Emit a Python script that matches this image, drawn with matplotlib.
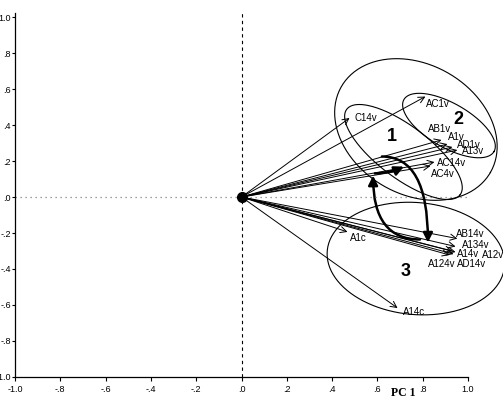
import matplotlib
matplotlib.use("Agg")
import matplotlib.pyplot as plt
from matplotlib.patches import FancyArrowPatch
import numpy as np

plt.rcParams['font.family'] = ['Liberation Sans', 'DejaVu Sans']

# loadings (PC1, PC2) of each variable
noms = ["C14v", "AC1v", "AB1v", "A1v", "AD1v", "A13v", "AC14v", "AC4v",
        "AB14v", "A134v", "A14v", "A12v", "A124v", "AD14v", "A1c", "A14c"]
pc1 = [0.477, 0.812, 0.883, 0.909, 0.931, 0.953, 0.852, 0.834,
       0.953, 0.945, 0.931, 0.945, 0.918, 0.936, 0.468, 0.689]
pc2 = [0.439, 0.558, 0.317, 0.294, 0.278, 0.261, 0.194, 0.172,
       -0.231, -0.275, -0.300, -0.306, -0.322, -0.317, -0.194, -0.617]

# decalage des etiquettes (pixels)
decal = [(5, 0), (1, -7), (-14, 11), (1, 7), (5, 2), (5, -1), (3, -1), (1, -8),
         (-1, 5), (6, 2), (5, -3), (26, -3), (-21, -9), (3, -10), (2, -6), (5, -4)]

ticks = [-1.0, -0.8, -0.6, -0.4, -0.2, 0.0, 0.2, 0.4, 0.6, 0.8, 1.0]
xlabels = ["-1.0", "-.8", "-.6", "-.4", "-.2", ".0", ".2", ".4", ".6", ".8", "1.0"]
ylabels = ["-1.0", "-.8", "-.6", "-.4", "-.2", ".0", ".2", ".4", ".6", ".8", "1.0"]

fig = plt.figure(figsize=(5.03, 4.04), dpi=100)
ax = fig.add_axes([15 / 503, 27 / 404, 453 / 503, 363.6 / 404])
ax.set_xlim(-1, 1)
ax.set_ylim(-1, 1.02)
sx = 453 / 2
sy = 363.6 / 2.02

for s in ["top", "right"]:
    ax.spines[s].set_visible(False)
ax.spines["left"].set_linewidth(0.9)
ax.spines["bottom"].set_linewidth(0.9)
ax.set_xticks(ticks)
ax.set_xticklabels(xlabels)
ax.set_yticks(ticks)
ax.set_yticklabels(ylabels)
ax.tick_params(axis="x", direction="out", length=3, pad=3, labelsize=6.5, width=0.8)
ax.tick_params(axis="y", direction="out", length=2, pad=1, labelsize=6.5, width=0.8)

# axes de reference
ax.axvline(0, color="black", lw=0.8, ls=(0, (3, 3)))
ax.plot([-1, 1], [0, 0], color="gray", lw=0.9, ls=(0, (1, 3)))

# vecteurs
for i in range(len(noms)):
    ax.annotate("", xy=(pc1[i], pc2[i]), xytext=(0, 0),
                arrowprops=dict(arrowstyle="->", lw=0.7, color="black",
                                shrinkA=0, shrinkB=0, mutation_scale=11))
    ax.annotate(noms[i], xy=(pc1[i], pc2[i]), xytext=decal[i],
                textcoords="offset pixels", fontsize=7, ha="left", va="center",
                annotation_clip=False)
ax.plot(0, 0, "o", color="black", markersize=7)


# ellipses des groupes
def ellipse(cx, cy, a, b, ang):
    t = np.linspace(0, 2 * np.pi, 200)
    th = np.radians(ang)
    dx = a * np.cos(t) * np.cos(th) - b * np.sin(t) * np.sin(th)
    dy = a * np.cos(t) * np.sin(th) + b * np.sin(t) * np.cos(th)
    ax.plot(cx + dx / sx, cy + dy / sy, color="black", lw=0.8, clip_on=False)


ellipse(0.770, 0.375, 86, 65, -30)
ellipse(0.715, 0.250, 71, 26, -37)
ellipse(0.916, 0.397, 52, 22, -30)
ellipse(0.770, -0.342, 89, 56, -5)

ax.text(0.664, 0.336, "1", fontsize=13, fontweight="bold", ha="center", va="center")
ax.text(0.956, 0.430, "2", fontsize=13, fontweight="bold", ha="center", va="center")
ax.text(0.726, -0.414, "3", fontsize=13, fontweight="bold", ha="center", va="center")

# fleches de transition
fl = dict(arrowstyle="-|>", lw=1.8, color="black", mutation_scale=14,
          shrinkA=0, shrinkB=0)
ax.add_patch(FancyArrowPatch((0.620, 0.225), (0.823, -0.253),
                             connectionstyle="angle3,angleA=0,angleB=90", **fl))
ax.add_patch(FancyArrowPatch((0.788, -0.236), (0.581, 0.119),
                             connectionstyle="angle3,angleA=0,angleB=90", **fl))
ax.add_patch(FancyArrowPatch((0.589, 0.131), (0.717, 0.169),
                             connectionstyle="arc3,rad=0.1", **fl))

fig.text(403 / 503, 11 / 404, "PC 1", family="Liberation Serif", fontweight="bold",
         fontsize=8.5, ha="center", va="center")

fig.savefig("out.png", dpi=100)
